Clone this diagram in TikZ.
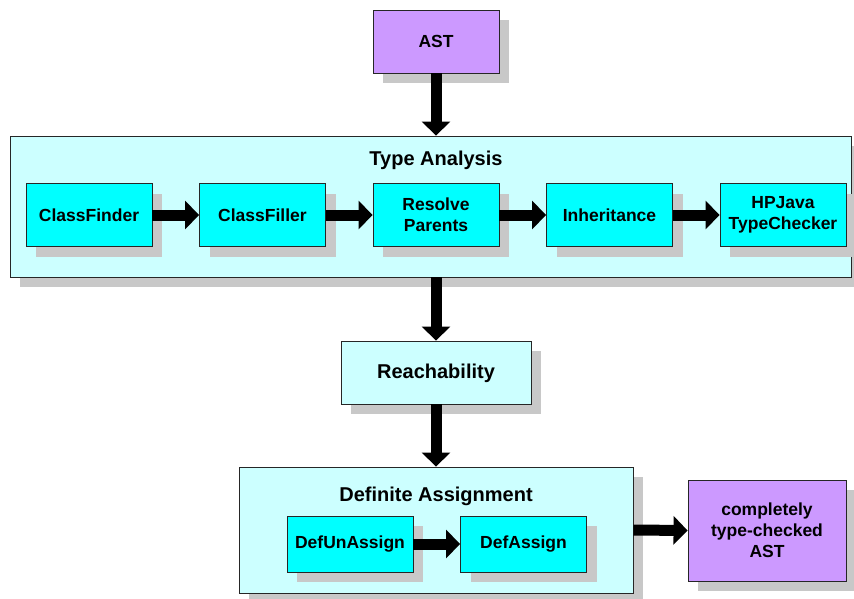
\documentclass[tikz,border=0pt]{standalone}
\usepackage{fontspec}
\setmainfont{Liberation Sans}
\usetikzlibrary{arrows.meta,shadows}
\definecolor{astpurple}{HTML}{CC99FF}
\definecolor{palecyan}{HTML}{CCFFFF}
\definecolor{boxcyan}{HTML}{00FFFF}
\definecolor{shadowgray}{HTML}{C8C8C8}
\tikzset{
  base/.style={draw=black!85, line width=0.9pt, inner sep=0pt, align=center,
    font=\fontsize{17.5}{21}\selectfont\bfseries,
    drop shadow={shadow xshift=10pt, shadow yshift=-10pt, fill=shadowgray, opacity=1}},
  purplebox/.style={base, fill=astpurple},
  groupbox/.style={base, fill=palecyan},
  stagebox/.style={base, fill=boxcyan, minimum width=126pt, minimum height=63pt},
  titletext/.style={inner sep=0pt, font=\fontsize{20}{24}\selectfont\bfseries},
  bigarrow/.style={line width=11pt, -{Triangle[width=28pt,length=14pt]}},
}
\begin{document}
\begin{tikzpicture}[x=1pt,y=-1pt]
\useasboundingbox (0,0) rectangle (854,598);
% containers and boxes
\node[purplebox, minimum width=126pt, minimum height=63pt] (ast) at (436,41.5) {AST};
\node[groupbox, minimum width=841pt, minimum height=141pt] (ta) at (430.5,206.5) {};
\node[titletext] (tatitle) at (436,160) {Type Analysis};
\node[stagebox] (cf) at (89,215) {ClassFinder};
\node[stagebox] (cfl) at (262.5,215) {ClassFiller};
\node[stagebox] (rp) at (436,215) {Resolve\\Parents};
\node[stagebox] (inh) at (609.5,215) {Inheritance};
\node[stagebox] (hp) at (783,215) {HPJava\\TypeChecker};
\node[groupbox, minimum width=190pt, minimum height=63pt, font=\fontsize{20}{24}\selectfont\bfseries, text height=14pt, text depth=2pt] (reach) at (436,372.5) {Reachability};
\node[groupbox, minimum width=394pt, minimum height=126pt] (da) at (436,530) {};
\node[titletext] (datitle) at (436,496) {Definite Assignment};
\node[stagebox, minimum height=56pt] (du) at (350,544) {DefUnAssign};
\node[stagebox, minimum height=56pt] (dfa) at (523.5,544) {DefAssign};
\node[purplebox, minimum width=158pt, minimum height=101pt] (out) at (767,530.5) {completely\\type-checked\\AST};
% arrows
\draw[bigarrow] (ast.south) -- (ast.south |- ta.north);
\draw[bigarrow] (cf.east) -- (cfl.west);
\draw[bigarrow] (cfl.east) -- (rp.west);
\draw[bigarrow] (rp.east) -- (inh.west);
\draw[bigarrow] (inh.east) -- (hp.west);
\draw[bigarrow] (reach.north |- ta.south) -- (reach.north);
\draw[bigarrow] (reach.south) -- (da.north);
\draw[bigarrow] (du.east) -- (dfa.west);
\draw[bigarrow] (da.east) -- (out.west);
\end{tikzpicture}
\end{document}
